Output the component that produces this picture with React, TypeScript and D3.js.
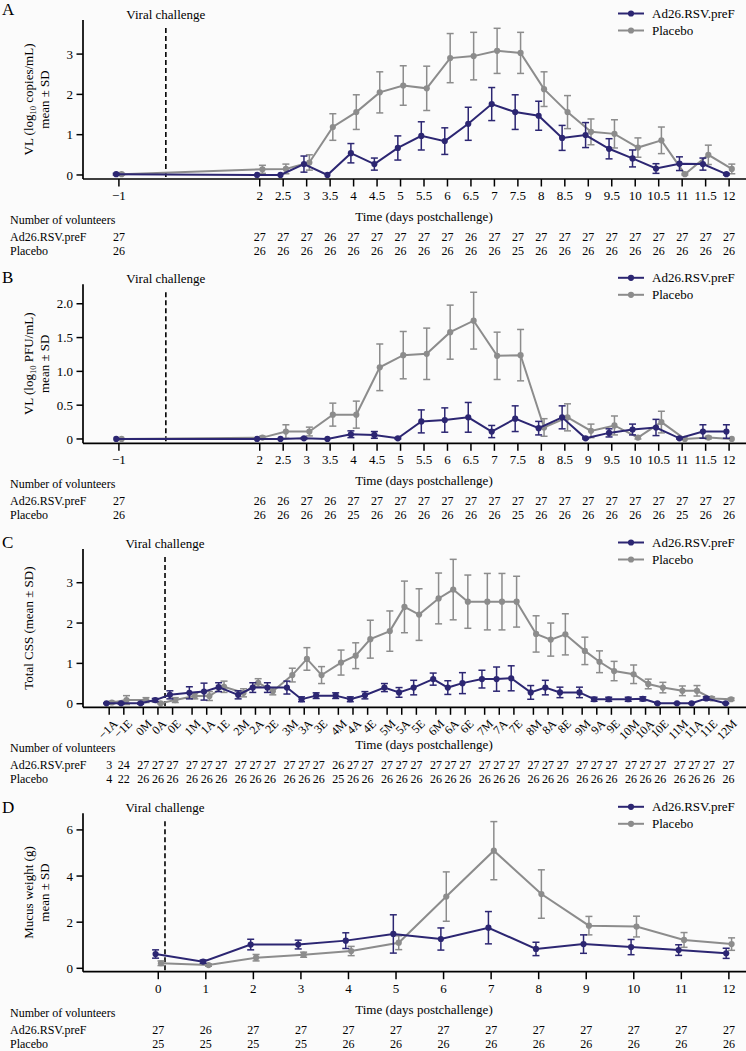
import * as d3 from "d3";

const AD_COLOR = "#2c2672";
const PL_COLOR = "#8c8c8c";
const FONT = "'Liberation Serif', 'DejaVu Serif', 'Times New Roman', serif";
const W = 746;
const H = 1051;

// ---- panel A: viral load by qRT-PCR (log10 copies/mL)
const vlDays = [-1, 2, 2.5, 3, 3.5, 4, 4.5, 5, 5.5, 6, 6.5, 7, 7.5, 8, 8.5, 9, 9.5, 10, 10.5, 11, 11.5, 12];
const vlAdMean = [0.02, 0, 0, 0.27, 0, 0.54, 0.27, 0.67, 0.97, 0.84, 1.27, 1.76, 1.56, 1.47, 0.92, 0.99, 0.65, 0.41, 0.16, 0.28, 0.27, 0.02];
const vlAdSd = [0.02, 0, 0, 0.2, 0, 0.24, 0.15, 0.3, 0.35, 0.33, 0.41, 0.41, 0.43, 0.36, 0.31, 0.31, 0.25, 0.21, 0.12, 0.17, 0.15, 0.02];
const vlPlMean = [0.02, 0.14, 0.15, 0.31, 1.19, 1.56, 2.05, 2.22, 2.15, 2.9, 2.95, 3.08, 3.03, 2.13, 1.56, 1.07, 1.02, 0.68, 0.86, 0.02, 0.5, 0.15];
const vlPlSd = [0.02, 0.1, 0.12, 0.19, 0.33, 0.43, 0.51, 0.49, 0.55, 0.61, 0.59, 0.56, 0.51, 0.43, 0.41, 0.32, 0.35, 0.24, 0.33, 0.02, 0.24, 0.12];
const vlAdN = [27, 27, 27, 27, 26, 27, 27, 27, 27, 27, 26, 27, 27, 27, 27, 27, 27, 27, 27, 27, 27, 27];
const vlPlN = [26, 26, 26, 26, 26, 26, 26, 26, 26, 26, 26, 26, 25, 26, 26, 26, 26, 26, 26, 26, 26, 26];

// ---- panel B: viral load by culture (log10 PFU/mL)
const pfuAdMean = [0, 0, 0, 0.01, 0, 0.07, 0.06, 0.01, 0.26, 0.28, 0.32, 0.11, 0.3, 0.16, 0.32, 0.01, 0.09, 0.14, 0.17, 0.01, 0.11, 0.11];
const pfuAdSd = [0, 0, 0, 0.01, 0, 0.05, 0.05, 0.01, 0.17, 0.18, 0.22, 0.09, 0.19, 0.1, 0.17, 0.01, 0.06, 0.08, 0.12, 0.01, 0.1, 0.1];
const pfuPlMean = [0, 0.02, 0.11, 0.11, 0.36, 0.36, 1.06, 1.24, 1.26, 1.58, 1.75, 1.23, 1.24, 0.17, 0.32, 0.12, 0.2, 0.02, 0.25, 0, 0.02, 0];
const pfuPlSd = [0, 0.02, 0.1, 0.065, 0.17, 0.2, 0.345, 0.35, 0.38, 0.4, 0.42, 0.35, 0.38, 0.13, 0.2, 0.1, 0.14, 0.02, 0.16, 0, 0.02, 0];
const pfuAdN = [27, 26, 26, 27, 26, 27, 27, 27, 27, 27, 27, 27, 27, 27, 27, 27, 27, 27, 27, 27, 27, 27];
const pfuPlN = [26, 26, 26, 26, 26, 25, 26, 26, 26, 26, 26, 26, 25, 26, 26, 26, 26, 26, 26, 25, 26, 26];

// ---- panel C: total clinical symptom score, M/A/E = morning/afternoon/evening
const cssLabels = ["−1A", "−1E", "0M", "0A", "0E", "1M", "1A", "1E", "2M", "2A", "2E", "3M", "3A", "3E", "4M", "4A", "4E", "5M", "5A", "5E", "6M", "6A", "6E", "7M", "7A", "7E", "8M", "8A", "8E", "9M", "9A", "9E", "10M", "10A", "10E", "11M", "11A", "11E", "12M"];
const cssAdMean = [0.01, 0.01, 0.01, 0.09, 0.22, 0.27, 0.3, 0.41, 0.22, 0.4, 0.4, 0.4, 0.11, 0.2, 0.2, 0.11, 0.21, 0.4, 0.28, 0.4, 0.61, 0.4, 0.51, 0.61, 0.61, 0.63, 0.28, 0.4, 0.28, 0.28, 0.11, 0.11, 0.11, 0.12, 0.01, 0.01, 0.01, 0.13, 0.01];
const cssAdSd = [0.01, 0.02, 0.02, 0.04, 0.1, 0.15, 0.21, 0.11, 0.1, 0.12, 0.12, 0.16, 0.06, 0.07, 0.07, 0.06, 0.09, 0.1, 0.12, 0.18, 0.15, 0.17, 0.26, 0.22, 0.3, 0.31, 0.17, 0.18, 0.13, 0.13, 0.05, 0.05, 0.05, 0.05, 0.01, 0.01, 0.01, 0.04, 0.01];
const cssPlMean = [0.03, 0.09, 0.09, 0.01, 0.09, 0.19, 0.19, 0.42, 0.27, 0.52, 0.31, 0.71, 1.11, 0.71, 1.02, 1.19, 1.6, 1.8, 2.4, 2.21, 2.61, 2.83, 2.53, 2.53, 2.53, 2.53, 1.73, 1.59, 1.72, 1.31, 1.04, 0.81, 0.73, 0.49, 0.4, 0.32, 0.32, 0.13, 0.11];
const cssPlSd = [0.03, 0.11, 0.06, 0.01, 0.06, 0.07, 0.11, 0.14, 0.1, 0.1, 0.09, 0.17, 0.28, 0.21, 0.31, 0.32, 0.47, 0.5, 0.64, 0.64, 0.63, 0.75, 0.66, 0.7, 0.7, 0.63, 0.45, 0.41, 0.51, 0.34, 0.27, 0.24, 0.23, 0.12, 0.13, 0.12, 0.13, 0.04, 0.03];
const cssAdN = [3, 24, 27, 27, 27, 27, 27, 27, 27, 27, 27, 27, 27, 27, 26, 27, 27, 27, 27, 27, 27, 27, 27, 27, 27, 27, 27, 27, 27, 27, 27, 27, 27, 27, 27, 27, 27, 27, 27];
const cssPlN = [4, 22, 26, 26, 26, 26, 26, 26, 26, 26, 26, 26, 26, 26, 25, 26, 26, 26, 26, 26, 26, 26, 26, 26, 26, 26, 26, 26, 26, 26, 26, 26, 26, 26, 26, 26, 26, 26, 26];
const slotOffset: Record<string, number> = { M: 0, A: 0.3, E: 0.6 };

// ---- panel D: mucus weight (g)
const mucusDays = [0, 1, 2, 3, 4, 5, 6, 7, 8, 9, 10, 11, 12];
const mucusAdMean = [0.62, 0.29, 1.03, 1.03, 1.2, 1.49, 1.27, 1.76, 0.84, 1.05, 0.92, 0.79, 0.65];
const mucusAdSd = [0.18, 0.07, 0.23, 0.19, 0.34, 0.83, 0.48, 0.7, 0.29, 0.4, 0.33, 0.23, 0.22];
const mucusPlMean = [0.22, 0.14, 0.46, 0.59, 0.75, 1.11, 3.11, 5.1, 3.22, 1.85, 1.81, 1.23, 1.05];
const mucusPlSd = [0.1, 0.05, 0.14, 0.11, 0.2, 0.3, 1.07, 1.26, 1.05, 0.4, 0.45, 0.32, 0.27];
const mucusAdN = [27, 26, 27, 27, 27, 27, 27, 27, 27, 27, 27, 27, 27];
const mucusPlN = [25, 25, 25, 25, 26, 26, 26, 26, 26, 26, 26, 26, 26];

const cssTimes = cssLabels.map((l) => {
  const s = l.replace("−", "-");
  return parseInt(s, 10) + slotOffset[s[s.length - 1]];
});

const fmtDay = (d: number) => (d < 0 ? "−" + Math.abs(d) : String(d));

type PanelProps = {
  letter: string;
  letterY: number;
  top: number;
  bottom: number;
  xDomain: [number, number];
  yDomain: [number, number];
  yTicks: number[];
  yFmt: (v: number) => string;
  xs: number[];
  xLabels: string[];
  rotate?: boolean;
  challenge: number;
  title: React.ReactNode[];
  adMean: number[];
  adSd: number[];
  plMean: number[];
  plSd: number[];
  adN: number[];
  plN: number[];
};

function Panel(p: PanelProps) {
  const left = 83;
  const x = d3.scaleLinear().domain(p.xDomain).range([left, W]);
  const y = d3.scaleLinear().domain(p.yDomain).range([p.bottom, p.top]);
  const dodge = 2.7;

  const series = [
    { mean: p.plMean, sd: p.plSd, color: PL_COLOR, off: dodge },
    { mean: p.adMean, sd: p.adSd, color: AD_COLOR, off: -dodge },
  ];

  const line = (mean: number[], off: number) =>
    d3
      .line<number>()
      .x((_, i) => x(p.xs[i]) + off)
      .y((v) => y(v))(mean) || "";

  const cy = (p.top + p.bottom) / 2;

  return (
    <g style={{ fontFamily: FONT }}>
      <text x={2} y={p.letterY} fontSize={17}>{p.letter}</text>

      {/* y axis title */}
      {p.title.map((t, i) => (
        <text
          key={i}
          transform={`translate(${p.title.length === 1 ? 28 : 28 + i * 16},${cy}) rotate(-90)`}
          textAnchor="middle"
          dominantBaseline="central"
          fontSize={13}
        >
          {t}
        </text>
      ))}

      {/* viral challenge */}
      <line x1={x(p.challenge)} x2={x(p.challenge)} y1={p.top + 8} y2={p.bottom} stroke="#000" strokeWidth={1.6} strokeDasharray="5,3" />
      <text x={x(p.challenge)} y={p.top - 1.5} textAnchor="middle" fontSize={13}>Viral challenge</text>

      {/* series */}
      {series.map((s, k) => (
        <g key={k} stroke={s.color} fill={s.color}>
          <path d={line(s.mean, s.off)} fill="none" strokeWidth={2} />
          {s.mean.map((m, i) => {
            const cx = x(p.xs[i]) + s.off;
            const sd = s.sd[i];
            return (
              <g key={i}>
                {sd > 0 && (
                  <g strokeWidth={1.5}>
                    <line x1={cx} x2={cx} y1={y(m - sd)} y2={y(m + sd)} />
                    <line x1={cx - 3.5} x2={cx + 3.5} y1={y(m - sd)} y2={y(m - sd)} />
                    <line x1={cx - 3.5} x2={cx + 3.5} y1={y(m + sd)} y2={y(m + sd)} />
                  </g>
                )}
                <circle cx={cx} cy={y(m)} r={3.1} stroke="none" />
              </g>
            );
          })}
        </g>
      ))}

      {/* axes */}
      <line x1={left} x2={W} y1={p.bottom} y2={p.bottom} stroke="#000" strokeWidth={1.7} />
      <line x1={left} x2={left} y1={p.top} y2={p.bottom} stroke="#000" strokeWidth={1.7} />
      {p.yTicks.map((t) => (
        <g key={t}>
          <line x1={left - 6.5} x2={left} y1={y(t)} y2={y(t)} stroke="#000" strokeWidth={1.5} />
          <text x={left - 10} y={y(t)} dy="0.35em" textAnchor="end" fontSize={13}>{p.yFmt(t)}</text>
        </g>
      ))}
      {p.xs.map((t, i) => (
        <g key={i}>
          <line x1={x(t)} x2={x(t)} y1={p.bottom} y2={p.bottom + 7.5} stroke="#000" strokeWidth={1.5} />
          {p.rotate ? (
            <text
              transform={`translate(${x(t) + 3},${p.bottom + 11}) rotate(-45)`}
              textAnchor="end"
              dominantBaseline="hanging"
              fontSize={12}
            >
              {p.xLabels[i]}
            </text>
          ) : (
            <text x={x(t)} y={p.bottom + 21} textAnchor="middle" fontSize={13}>{p.xLabels[i]}</text>
          )}
          <text x={x(t)} y={p.bottom + 62} textAnchor="middle" fontSize={12}>{p.adN[i]}</text>
          <text x={x(t)} y={p.bottom + 76} textAnchor="middle" fontSize={12}>{p.plN[i]}</text>
        </g>
      ))}
      <text x={424} y={p.bottom + 42} textAnchor="middle" fontSize={13}>Time (days postchallenge)</text>
      <text x={10} y={p.bottom + 45} fontSize={12}>Number of volunteers</text>
      <text x={10} y={p.bottom + 62} fontSize={12}>Ad26.RSV.preF</text>
      <text x={10} y={p.bottom + 76} fontSize={12}>Placebo</text>

      {/* legend */}
      {[
        { label: "Ad26.RSV.preF", color: AD_COLOR, yy: p.top - 6.5 },
        { label: "Placebo", color: PL_COLOR, yy: p.top + 10.5 },
      ].map((l) => (
        <g key={l.label}>
          <line x1={618} x2={644} y1={l.yy} y2={l.yy} stroke={l.color} strokeWidth={2} />
          <circle cx={631} cy={l.yy} r={3.1} fill={l.color} />
          <text x={652} y={l.yy} dy="0.35em" fontSize={13}>{l.label}</text>
        </g>
      ))}
    </g>
  );
}

const sub = (main: string, rest: string) => (
  <>
    {main}
    <tspan fontSize={8.5} baselineShift="sub">10</tspan>
    {rest}
  </>
);

export default function App() {
  const intFmt = (v: number) => String(v);
  return (
    <svg width={W} height={H} style={{ position: "absolute", left: 0, top: 0, background: "#fbfbfb", fontFamily: FONT }}>
      <rect width={W} height={H} fill="#fbfbfb" />
      <Panel
        letter="A"
        letterY={15}
        top={20}
        bottom={179}
        xDomain={[-1.765, 12.36]}
        yDomain={[-0.1, 3.846]}
        yTicks={[0, 1, 2, 3]}
        yFmt={intFmt}
        xs={vlDays}
        xLabels={vlDays.map(fmtDay)}
        challenge={0}
        title={[sub("VL (log", " copies/mL)"), "mean ± SD"]}
        adMean={vlAdMean}
        adSd={vlAdSd}
        plMean={vlPlMean}
        plSd={vlPlSd}
        adN={vlAdN}
        plN={vlPlN}
      />
      <Panel
        letter="B"
        letterY={283.3}
        top={284.3}
        bottom={443.3}
        xDomain={[-1.765, 12.36]}
        yDomain={[-0.064, 2.288]}
        yTicks={[0, 0.5, 1, 1.5, 2]}
        yFmt={(v) => (v === 0 ? "0" : v.toFixed(1))}
        xs={vlDays}
        xLabels={vlDays.map(fmtDay)}
        challenge={0}
        title={[sub("VL (log", " PFU/mL)"), "mean ± SD"]}
        adMean={pfuAdMean}
        adSd={pfuAdSd}
        plMean={pfuPlMean}
        plSd={pfuPlSd}
        adN={pfuAdN}
        plN={pfuPlN}
      />
      <Panel
        letter="C"
        letterY={548.3}
        top={549}
        bottom={707.3}
        xDomain={[-1.237, 12.36]}
        yDomain={[-0.089, 3.836]}
        yTicks={[0, 1, 2, 3]}
        yFmt={intFmt}
        xs={cssTimes}
        xLabels={cssLabels}
        rotate
        challenge={0.445}
        title={["Total CSS (mean ± SD)"]}
        adMean={cssAdMean}
        adSd={cssAdSd}
        plMean={cssPlMean}
        plSd={cssPlSd}
        adN={cssAdN}
        plN={cssPlN}
      />
      <Panel
        letter="D"
        letterY={812.7}
        top={813.3}
        bottom={971.7}
        xDomain={[-1.583, 12.36]}
        yDomain={[-0.147, 6.72]}
        yTicks={[0, 2, 4, 6]}
        yFmt={intFmt}
        xs={mucusDays}
        xLabels={mucusDays.map(fmtDay)}
        challenge={0.141}
        title={["Mucus weight (g)", "mean ± SD"]}
        adMean={mucusAdMean}
        adSd={mucusAdSd}
        plMean={mucusPlMean}
        plSd={mucusPlSd}
        adN={mucusAdN}
        plN={mucusPlN}
      />
    </svg>
  );
}
